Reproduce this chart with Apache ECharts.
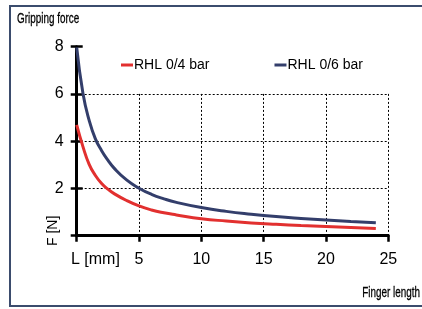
<!DOCTYPE html>
<html><head><meta charset="utf-8">
<script src="https://cdn.jsdelivr.net/npm/echarts@6/dist/echarts.min.js"></script>
<style>html,body{margin:0;padding:0;background:#fff}#c{width:422px;height:309px}</style>
</head><body><div id="c"></div>
<script>
const lengthMm = [0, 0.5, 1, 1.5, 2, 2.5, 3, 4, 5, 6, 7, 8, 10, 12, 14, 16, 18, 20, 22, 24];
const rhl04 = [4.69, 3.77, 3.02, 2.55, 2.21, 1.97, 1.78, 1.49, 1.26, 1.09, 0.97, 0.88, 0.72, 0.62, 0.54, 0.48, 0.43, 0.39, 0.35, 0.31];
const rhl06 = [7.97, 6.03, 4.88, 4.1, 3.6, 3.2, 2.86, 2.36, 2.01, 1.75, 1.56, 1.41, 1.19, 1.03, 0.91, 0.81, 0.73, 0.66, 0.6, 0.55];
const seriesNames = ['RHL 0/4 bar', 'RHL 0/6 bar'];
const xTicks = [0, 5, 10, 15, 20, 25];
const yTicks = [0, 2, 4, 6, 8];

const F = 'Liberation Sans, Arial, sans-serif';
const chart = echarts.init(document.getElementById('c'));
const G = {left: 76.7, right: 33.7, bottom: 73.3};
const pairs = (ys) => lengthMm.map((x, i) => [x, ys[i]]);
chart.setOption({
  animation: false,
  grid: [
    {left: G.left, right: G.right, top: 46.7, bottom: G.bottom},
    {left: G.left, right: G.right, top: 93.9, bottom: G.bottom}
  ],
  legend: {
    left: 116, top: 53, itemWidth: 12, itemHeight: 3, itemGap: 65, icon: 'rect',
    textStyle: {fontFamily: F, fontSize: 14, color: '#000', padding: [0,0,0,-4]},
    data: seriesNames
  },
  xAxis: [
    {gridIndex: 0, type: 'value', min: 0, max: 25, interval: 5,
     axisLine: {show: true, lineStyle: {color: '#000', width: 3}},
     axisTick: {show: true, length: 6, lineStyle: {color: '#000', width: 2.5}},
     axisLabel: {fontFamily: F, fontSize: 16, color: '#000', margin: 16,
       formatter: v => v === 0 ? '' : String(v)},
     splitLine: {show: false}},
    {gridIndex: 1, type: 'value', min: 0, max: 25, interval: 5,
     axisLine: {show: false}, axisTick: {show: false}, axisLabel: {show: false},
     splitLine: {show: true, showMinLine: false, lineStyle: {color: '#000', width: 1, type: [2, 2]}}}
  ],
  yAxis: [
    {gridIndex: 0, type: 'value', min: 0, max: 8, interval: 2,
     axisLine: {show: true, lineStyle: {color: '#000', width: 3}},
     axisTick: {show: true, length: 6, lineStyle: {color: '#000', width: 2.5}},
     axisLabel: {fontFamily: F, fontSize: 16, color: '#000', margin: 13,
       formatter: v => v === 0 ? '' : String(v)},
     splitLine: {show: false}},
    {gridIndex: 0, type: 'value', min: 0, max: 8, interval: 2, position: 'left',
     axisLine: {show: false},
     axisTick: {show: true, inside: true, length: 6, lineStyle: {color: '#000', width: 2.5}},
     axisLabel: {show: false}, splitLine: {show: false}},
    {gridIndex: 1, type: 'value', min: 0, max: 6, interval: 2,
     axisLine: {show: false}, axisTick: {show: false}, axisLabel: {show: false},
     splitLine: {show: true, showMinLine: false, lineStyle: {color: '#000', width: 1, type: [2, 2]}}}
  ],
  series: [
    {name: seriesNames[0], type: 'line', xAxisIndex: 0, yAxisIndex: 0, smooth: 0.5, showSymbol: false,
     data: pairs(rhl04), lineStyle: {color: '#e2302f', width: 3}, itemStyle: {color: '#e2302f'}},
    {name: seriesNames[1], type: 'line', xAxisIndex: 0, yAxisIndex: 0, smooth: 0.5, showSymbol: false,
     data: pairs(rhl06), lineStyle: {color: '#333e6b', width: 3}, itemStyle: {color: '#333e6b'}}
  ],
  graphic: [
    {type: 'polyline', shape: {points: [[422, 6], [10, 6], [10, 306], [422, 306]]},
     style: {stroke: '#3b4c6d', lineWidth: 2, fill: null}},
    {type: 'text', x: 17, y: 11, scaleX: 0.66, style: {text: 'Gripping force', font: '15px ' + F, fill: '#000', stroke: '#000', lineWidth: 0.3}},
    {type: 'text', x: 420, y: 285, scaleX: 0.66, style: {text: 'Finger length', font: '15px ' + F, fill: '#000', stroke: '#000', lineWidth: 0.3, align: 'right'}},
    {type: 'text', x: 71, y: 252, style: {text: 'L [mm]', font: '16px ' + F, fill: '#000'}},
    {type: 'text', x: 46, y: 246, rotation: Math.PI / 2, style: {text: 'F [N]', font: '14px ' + F, fill: '#000'}}
  ]
});
</script></body></html>
